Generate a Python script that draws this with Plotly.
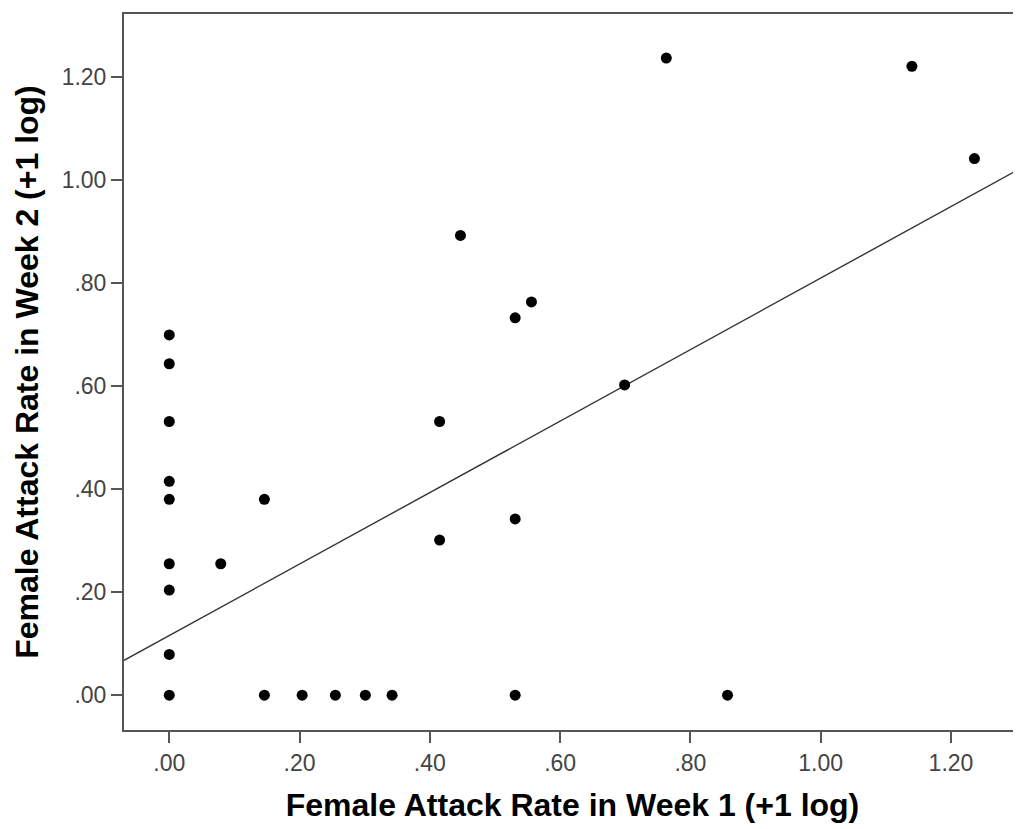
import plotly.graph_objects as go

# Data (log10(x+1) transformed attack rates)
week1 = [0.0, 0.0, 0.0, 0.0, 0.0, 0.0, 0.0, 0.0, 0.0,
         0.079, 0.146, 0.146, 0.204, 0.255, 0.301, 0.342,
         0.415, 0.415, 0.447, 0.531, 0.531, 0.531, 0.556,
         0.699, 0.763, 0.857, 1.140, 1.236]
week2 = [0.0, 0.079, 0.204, 0.255, 0.380, 0.415, 0.531, 0.643, 0.699,
         0.255, 0.380, 0.0, 0.0, 0.0, 0.0, 0.0,
         0.531, 0.301, 0.892, 0.732, 0.342, 0.0, 0.763,
         0.602, 1.236, 0.0, 1.220, 1.041]

# Fit line
fit_intercept = 0.1157
fit_slope = 0.6935

x_range = [-0.0695, 1.3075]
y_range = [-0.0675, 1.3215]

x_tickvals = [0.0, 0.2, 0.4, 0.6, 0.8, 1.0, 1.2]
x_ticktext = [".00", ".20", ".40", ".60", ".80", "1.00", "1.20"]
y_tickvals = [0.0, 0.2, 0.4, 0.6, 0.8, 1.0, 1.2]
y_ticktext = [".00", ".20", ".40", ".60", ".80", "1.00", "1.20"]

x_title = "Female Attack Rate in Week 1 (+1 log)"
y_title = "Female Attack Rate in Week 2 (+1 log)"

fit_x = [x_range[0], x_range[1]]
fit_y = [fit_intercept + fit_slope * v for v in fit_x]

fig = go.Figure()
fig.add_trace(go.Scatter(
    x=fit_x, y=fit_y, mode="lines",
    line=dict(color="#333333", width=1.4),
    hoverinfo="skip", showlegend=False, cliponaxis=True,
))
fig.add_trace(go.Scatter(
    x=week1, y=week2, mode="markers",
    marker=dict(color="black", size=11, line=dict(width=0)),
    showlegend=False,
))

axis_common = dict(
    showgrid=False, zeroline=False,
    showline=True, linecolor="#555555", linewidth=2,
    ticks="outside", ticklen=11, tickwidth=2, tickcolor="#555555",
    tickfont=dict(family="Liberation Sans, Arial, sans-serif", size=23, color="#444444"),
)

# The page places the figure with an 8px body margin, so the figure is
# sized to the visible area.
fig.update_layout(
    width=1013, height=821,
    margin=dict(l=116, r=0, t=6, b=99),
    plot_bgcolor="white", paper_bgcolor="white",
    xaxis=dict(range=x_range, tickvals=x_tickvals, ticktext=x_ticktext,
               mirror=True,
               title=dict(text=x_title, standoff=19,
                          font=dict(family="Liberation Sans, Arial, sans-serif", size=32, color="black")),
               **axis_common),
    yaxis=dict(range=y_range, tickvals=y_tickvals, ticktext=y_ticktext,
               mirror=False,
               title=dict(text=y_title, standoff=13,
                          font=dict(family="Liberation Sans, Arial, sans-serif", size=32, color="black")),
               **axis_common),
    font=dict(family="Liberation Sans, Arial, sans-serif"),
)
fig.update_xaxes(title_font_weight="bold")
fig.update_yaxes(title_font_weight="bold")

fig.write_html("out.html")
